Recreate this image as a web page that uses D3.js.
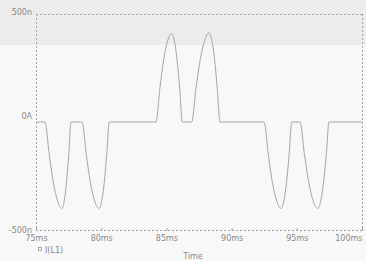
<!DOCTYPE html>
<html><head><meta charset="utf-8">
<script src="https://cdn.jsdelivr.net/npm/d3@7"></script>
<style>
html,body{margin:0;padding:0;background:#f8f8f8;}
svg{display:block;}
text{font-family:"DejaVu Sans",sans-serif;fill:#888;}
</style></head>
<body>
<svg id="chart" width="366" height="261"></svg>
<script>
// Time (ms) and current I(L1) (nA)
const timeMs = [75,
  75.69, 76.02, 76.34, 76.67, 76.99, 77.16, 77.33, 77.51, 77.68,
  78.53, 78.86, 79.18, 79.51, 79.83, 80.03, 80.23, 80.42, 80.62,
  84.20, 84.50, 84.80, 85.10, 85.40, 85.61, 85.81, 86.02, 86.22,
  86.94, 87.27, 87.61, 87.94, 88.27, 88.48, 88.69, 88.90, 89.11,
  92.49, 92.82, 93.14, 93.47, 93.79, 94.00, 94.20, 94.41, 94.61,
  95.25, 95.59, 95.93, 96.27, 96.61, 96.83, 97.04, 97.26, 97.47,
  100];
const currentNA = [0,
  0, -152, -284, -368, -400, -368, -284, -152, 0,
  0, -152, -284, -368, -400, -368, -284, -152, 0,
  0, 156, 291, 377, 410, 377, 291, 156, 0,
  0, 157, 293, 379, 412, 379, 293, 157, 0,
  0, -152, -284, -368, -400, -368, -284, -152, 0,
  0, -152, -284, -368, -400, -368, -284, -152, 0,
  0];
const xTicks = [75, 80, 85, 90, 95, 100];
const xTickLabels = ["75ms", "80ms", "85ms", "90ms", "95ms", "100ms"];
const yTicks = [500, 0, -500];
const yTickLabels = ["500n", "0A", "-500n"];
const seriesName = "I(L1)";
const xTitle = "Time";

const svg = d3.select("#chart");
const W = 366, H = 261;
const pLeft = 36, pRight = 362, pTop = 14, pBottom = 230;

// background bands
svg.append("rect").attr("x",0).attr("y",0).attr("width",W).attr("height",H).attr("fill","#f8f8f8");
svg.append("rect").attr("x",0).attr("y",0).attr("width",W).attr("height",45).attr("fill","#ececec");

const x = d3.scaleLinear().domain([75,100]).range([pLeft,pRight]);
const y = d3.scaleLinear().domain([-500,500]).range([pBottom,pTop]);

const dash = "2,2";
const gcol = "#a4a4a4";
function dl(x1,y1,x2,y2){
  svg.append("line").attr("x1",x1).attr("x2",x2).attr("y1",y1).attr("y2",y2)
    .attr("stroke",gcol).attr("stroke-dasharray",dash);
}
dl(pLeft,pTop+0.5,pRight,pTop+0.5);
dl(pLeft,pBottom+0.5,pRight,pBottom+0.5);
dl(pLeft+0.5,pTop,pLeft+0.5,pBottom);
dl(pRight+0.5,pTop,pRight+0.5,pBottom);

// x ticks
const xAxis = d3.axisBottom(x).tickValues(xTicks).tickSize(3)
  .tickFormat((d,i)=>xTickLabels[i]);
const gx = svg.append("g").attr("transform",`translate(0,${pBottom})`).call(xAxis);
gx.select(".domain").remove();
gx.selectAll(".tick line").attr("stroke",gcol).attr("y1",-2).attr("y2",1);
gx.selectAll(".tick text").attr("font-size",8).attr("fill","#888").attr("y",5).attr("dy","0.71em")
  .attr("font-family","DejaVu Sans, sans-serif");
gx.selectAll(".tick").filter(d=>d===100).select("text").attr("text-anchor","end").attr("x",0);

// y ticks
const yAxis = d3.axisLeft(y).tickValues(yTicks).tickSize(0)
  .tickFormat((d,i)=>yTickLabels[i]);
const gy = svg.append("g").attr("transform",`translate(${pLeft},0)`).call(yAxis);
gy.select(".domain").remove();
gy.selectAll(".tick text").attr("font-size",8).attr("fill","#888").attr("x",-4)
  .attr("font-family","DejaVu Sans, sans-serif")
  .attr("dy",(d)=> d===0 ? "-0.4em" : (d>0 ? "0.1em" : "0.32em"));

// series
const data = timeMs.map((t,i)=>({t, v: currentNA[i]}));
const line = d3.line().x(d=>x(d.t)).y(d=>y(d.v)).curve(d3.curveMonotoneX);
svg.append("path").datum(data).attr("d",line).attr("fill","none")
  .attr("stroke","#a6a6a6").attr("stroke-width",1);

// legend
svg.append("rect").attr("x",38.5).attr("y",247.5).attr("width",3).attr("height",3)
  .attr("fill","none").attr("stroke","#999").attr("stroke-width",0.8);
svg.append("text").attr("x",45).attr("y",253).attr("font-size",8).text(seriesName);

// x title
svg.append("text").attr("x",193).attr("y",259).attr("font-size",8).attr("text-anchor","middle").text(xTitle);
</script>
</body></html>
